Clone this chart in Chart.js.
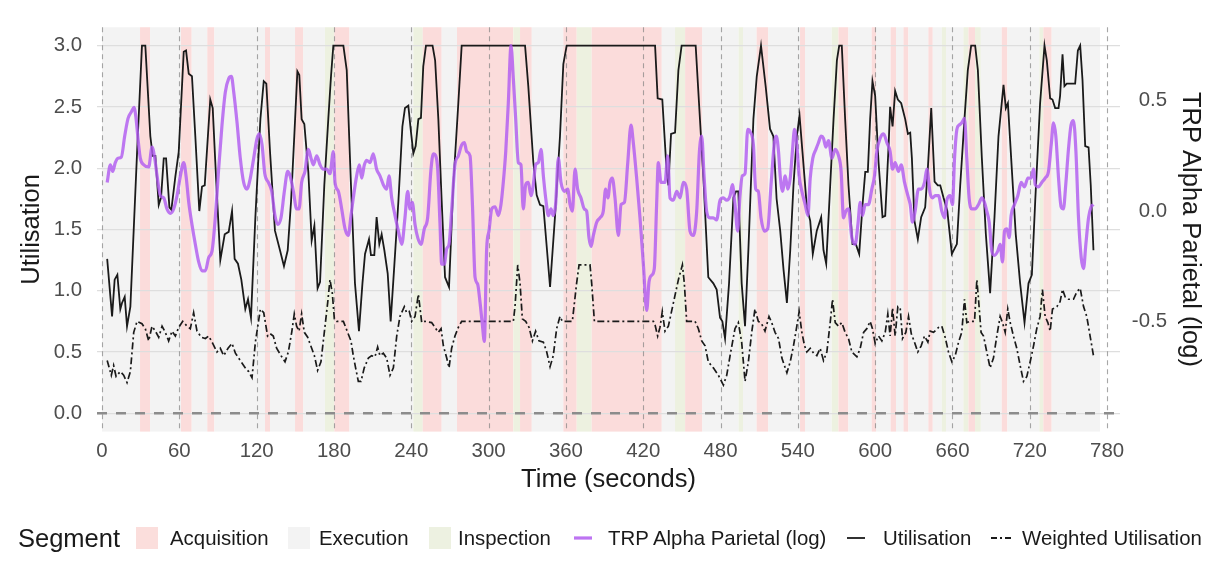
<!DOCTYPE html>
<html lang="en">
<head>
  <meta charset="UTF-8">
  <title>Utilisation and TRP Alpha Parietal over Time</title>
  <script src="https://cdn.jsdelivr.net/npm/chart.js"></script>
  <style>
    body {
      margin: 0;
      background: #fff;
      font-family: "Liberation Sans", Arial, sans-serif;
    }

    #wrap {
      position: relative;
      width: 1218px;
      height: 565px;
    }

    .legend {
      position: absolute;
      left: 0;
      top: 520px;
      width: 1218px;
      height: 36px;
      color: #1a1a1a;
    }

    .legend span {
      position: absolute;
      top: 0;
      line-height: 36px;
      font-size: 20.4px;
      white-space: nowrap;
    }

    .legend .title {
      font-size: 25.5px;
    }

    .legend .box {
      position: absolute;
      top: 7px;
      width: 22px;
      height: 22px;
    }

    .legend svg {
      position: absolute;
      top: 0;
    }
  </style>
</head>
<body>

<div id="wrap">
  <canvas id="chart" width="1218" height="565"></canvas>

  <div class="legend">
    <span class="title" style="left:18px">Segment</span>
    <div class="box" style="left:136px;background:#fbdedc"></div>
    <span style="left:170px">Acquisition</span>
    <div class="box" style="left:288px;background:#f3f3f3"></div>
    <span style="left:319px">Execution</span>
    <div class="box" style="left:429px;background:#edf1e1"></div>
    <span style="left:458px">Inspection</span>

    <svg style="left:572px" width="22" height="36"><line x1="2" y1="18" x2="20" y2="18" stroke="rgba(177,92,240,0.85)" stroke-width="3.2"/></svg>
    <span style="left:608px">TRP Alpha Parietal (log)</span>
    <svg style="left:845px" width="22" height="36"><line x1="2" y1="18" x2="20" y2="18" stroke="#1a1a1a" stroke-width="1.8"/></svg>
    <span style="left:883px">Utilisation</span>
    <svg style="left:990px" width="22" height="36"><line x1="1" y1="18" x2="21" y2="18" stroke="#1a1a1a" stroke-width="1.8" stroke-dasharray="6,3,2,3"/></svg>
    <span style="left:1022px">Weighted Utilisation</span>
  </div>
</div>

<script>
  // axis ticks
  const timeTicks = [0, 60, 120, 180, 240, 300, 360, 420, 480, 540, 600, 660, 720, 780];
  const utilTicks = [0, 0.5, 1, 1.5, 2, 2.5, 3];
  const trpTicks = [-0.5, 0, 0.5];

  // segment spans: [start s, end s, type]
  const segments = [
    [0, 29.5, 'Execution'], [29.5, 37.3, 'Acquisition'], [37.3, 61.3, 'Execution'],
    [61.3, 69.6, 'Acquisition'], [69.6, 81.7, 'Execution'], [81.7, 87.2, 'Acquisition'],
    [87.2, 126.5, 'Execution'], [126.5, 130.4, 'Acquisition'], [130.4, 149.8, 'Execution'],
    [149.8, 156.2, 'Acquisition'], [156.2, 173, 'Execution'], [173, 180.3, 'Inspection'],
    [180.3, 192, 'Acquisition'], [192, 241.6, 'Execution'], [241.6, 248.9, 'Inspection'],
    [248.9, 263.6, 'Acquisition'], [263.6, 275.5, 'Execution'], [275.5, 319.2, 'Acquisition'],
    [319.2, 324.4, 'Inspection'], [324.4, 333.5, 'Acquisition'], [333.5, 358, 'Execution'],
    [358, 368.4, 'Acquisition'], [368.4, 380, 'Inspection'], [380, 434.4, 'Acquisition'],
    [434.4, 444.7, 'Execution'], [444.7, 452.5, 'Inspection'], [452.5, 465.9, 'Acquisition'],
    [465.9, 494, 'Execution'], [494, 497.5, 'Inspection'], [497.5, 508, 'Execution'],
    [508, 517, 'Acquisition'], [517, 541.7, 'Execution'], [541.7, 545.6, 'Acquisition'],
    [545.6, 566.3, 'Execution'], [566.3, 571.5, 'Inspection'], [571.5, 579.2, 'Acquisition'],
    [579.2, 597.3, 'Execution'], [597.3, 600.7, 'Acquisition'], [600.7, 612, 'Execution'],
    [612, 616.2, 'Acquisition'], [616.2, 622, 'Execution'], [622, 625.8, 'Acquisition'],
    [625.8, 641.3, 'Execution'], [641.3, 644.7, 'Acquisition'], [644.7, 651.7, 'Execution'],
    [651.7, 655, 'Inspection'], [655, 668.5, 'Execution'], [668.5, 672.4, 'Inspection'],
    [672.4, 677.5, 'Acquisition'], [677.5, 682, 'Inspection'], [682, 698.2, 'Execution'],
    [698.2, 702.6, 'Acquisition'], [702.6, 727.4, 'Execution'], [727.4, 730.5, 'Inspection'],
    [730.5, 737, 'Acquisition'], [737, 774.5, 'Execution']
  ];

  // [time s, utilisation]
  const utilisation = [
    [4, 1.26], [7.8, 0.79], [9.8, 1.09], [11.9, 1.13], [14.2, 0.85], [15.5, 0.9], [17.6, 0.95],
    [19.4, 0.71], [22, 0.87], [27.2, 2.13], [31, 3], [33.6, 3], [37.5, 2.26], [39.3, 2.1],
    [41.4, 2.1], [44, 1.7], [45.8, 1.76], [47.9, 2.08], [49.7, 2.08], [52.3, 1.68], [53.8, 1.66],
    [56.9, 1.93], [59.5, 2.13], [63.4, 2.95], [65.2, 2.96], [67.3, 2.77], [69.8, 2.75], [72.4, 2.26],
    [75.5, 1.65], [77.6, 1.85], [79.7, 1.86], [84, 2.56], [85.9, 2.49], [88.5, 1.92], [91.8, 1.25],
    [95.2, 1.46], [98.3, 1.48], [100.9, 1.65], [102.9, 1.26], [105.5, 1.22], [108.1, 1.09],
    [111.2, 0.85], [113.3, 0.93], [115.6, 0.78], [119, 1.6], [122.9, 2.4], [125.5, 2.71],
    [127.5, 2.69], [130.4, 2.13], [134.2, 1.49], [138.1, 1.33], [141.2, 1.2], [144.1, 1.33],
    [146.7, 1.73], [149.2, 2.26], [151.6, 2.79], [153.1, 2.76], [154.9, 2.4], [157, 2.36],
    [160.1, 1.97], [162.7, 1.41], [164.8, 1.53], [167.3, 1.02], [169.2, 1.07], [172.5, 1.86],
    [175.6, 2.4], [177.7, 2.75], [179.5, 3], [187.3, 3], [189.9, 2.8], [193.2, 1.86], [196.3, 1.06],
    [199.4, 0.67], [202.1, 1.06], [204.1, 1.3], [207.2, 1.42], [208.7, 1.29], [211.3, 1.29],
    [213.1, 1.6], [215.2, 1.38], [217, 1.46], [219.1, 1.33], [221.7, 1.14], [224, 0.75],
    [226.8, 1.2], [230, 1.73], [233.1, 2.34], [235.1, 2.49], [237.7, 2.51], [239.5, 2.32],
    [241.6, 2.12], [243.4, 2.18], [245.5, 2.4], [247.5, 2.41], [249.3, 2.83], [251.4, 3],
    [256.5, 3], [258.5, 2.88], [261, 2.4], [263.6, 1.73], [266.2, 1.11], [269.3, 1.03],
    [272.6, 1.86], [276.5, 2.53], [279.1, 3], [328.3, 3], [330.8, 2.67], [334.7, 2.05],
    [337.3, 1.78], [339.9, 1.7], [342.5, 1.69], [347.7, 1.03], [351.5, 1.6], [355.4, 2.26],
    [358, 2.85], [360.6, 3], [429.2, 3], [431.2, 2.57], [434.8, 2.56], [438.2, 1.97], [439.5, 1.86],
    [441.6, 2.28], [444.7, 2.29], [447.3, 2.8], [449.8, 3], [460.7, 3], [463.3, 2.53], [466.7, 1.92],
    [470.5, 1.11], [474.4, 1.06], [477, 1.01], [479.6, 0.78], [481.4, 0.75], [483.5, 0.61],
    [486.6, 1.06], [490, 1.76], [492, 1.81], [493.8, 1.81], [496.4, 1.06], [499, 0.71],
    [501.6, 1.33], [505.5, 2.4], [508.1, 2.75], [511.4, 3], [515, 2.67], [518.4, 2.32], [521, 2.26],
    [523.5, 1.75], [526.3, 1.49], [528.9, 1.17], [531.5, 0.9], [534.1, 1.33], [536.6, 1.86],
    [539.2, 2.26], [541.3, 2.43], [543.6, 2.13], [547, 1.68], [549.6, 1.57], [551.6, 1.3],
    [554.7, 1.49], [558.1, 1.6], [559.9, 1.33], [562, 1.22], [565.1, 1.86], [567.7, 2.4],
    [570.3, 2.88], [572.1, 3], [574.1, 3], [576.7, 2.4], [579.3, 1.86], [582.4, 1.38], [585, 1.38],
    [587.6, 1.3], [590.2, 1.7], [592.3, 1.97], [594.3, 1.97], [596.1, 2.4], [597.9, 2.71],
    [600, 2.59], [602.6, 2.05], [605.7, 1.6], [607.8, 1.61], [610.4, 2.18], [611.6, 2.5],
    [613.5, 2.34], [615.5, 2.63], [617.6, 2.56], [620.2, 2.53], [623.3, 2.4], [625.4, 2.28],
    [627.2, 2.29], [628.5, 2.08], [630.5, 1.57], [633.1, 1.42], [635.7, 1.6], [638.8, 1.68],
    [640.9, 2], [643.5, 2.49], [646.1, 1.89], [648.6, 1.86], [650.5, 1.86], [653, 1.76],
    [656, 1.65], [659.5, 1.3], [663.4, 1.38], [666, 1.86], [669.3, 2.4], [671.9, 2.8], [674.5, 3],
    [677.6, 3], [679.7, 2.8], [682.8, 2.08], [685.9, 1.46], [689.2, 0.98], [692.6, 1.6],
    [695.7, 2.26], [699.6, 2.68], [701.4, 2.49], [703, 2.53], [706, 2], [709.1, 1.46],
    [712.5, 1.06], [715.9, 0.74], [719, 1.06], [721.6, 1.13], [724.2, 1.73], [728, 2.53],
    [731.4, 3], [733.2, 2.88], [735.8, 2.57], [737.6, 2.56], [739.7, 2.49], [742.3, 2.49],
    [743.5, 2.59], [745.4, 2.93], [746.9, 2.67], [748.7, 2.69], [755.2, 2.69], [757.3, 2.96],
    [759.1, 3], [760.9, 2.72], [763, 2.18], [765.6, 2.17], [767.3, 1.86], [769.4, 1.33]
  ];

  // [time s, weighted utilisation]
  const weightedUtilisation = [
    [4, 0.43], [7.2, 0.31], [9, 0.39], [10.9, 0.3], [14.2, 0.34], [16.8, 0.31], [19.4, 0.25],
    [22, 0.34], [24.6, 0.66], [27.2, 0.75], [31, 0.73], [33.6, 0.69], [36.2, 0.59], [38.8, 0.71],
    [41.4, 0.67], [44, 0.62], [46.6, 0.71], [49.1, 0.66], [51.7, 0.59], [54.3, 0.67], [56.9, 0.63],
    [59.5, 0.7], [62.6, 0.75], [66, 0.71], [68.5, 0.69], [71.1, 0.82], [73.7, 0.67], [77.1, 0.62],
    [80.2, 0.61], [82.8, 0.63], [85.9, 0.57], [89.2, 0.5], [91.8, 0.53], [94.4, 0.47], [97.8, 0.53],
    [100.9, 0.57], [103.5, 0.49], [107.3, 0.43], [111.2, 0.37], [113.8, 0.34], [116.4, 0.29],
    [119, 0.58], [122.9, 0.85], [125.5, 0.82], [128.5, 0.63], [130.4, 0.65], [132.9, 0.63],
    [135.5, 0.53], [138.9, 0.47], [142, 0.42], [144.6, 0.5], [147.2, 0.66], [149.2, 0.81],
    [151, 0.71], [152.9, 0.67], [154.9, 0.81], [157, 0.66], [159.6, 0.62], [162.7, 0.53],
    [164.8, 0.47], [167.3, 0.35], [169.9, 0.42], [172.5, 0.66], [175.1, 0.9], [176.9, 1.09],
    [178.7, 0.98], [180.3, 0.77], [182.1, 0.75], [187.3, 0.75], [190.6, 0.66], [193.2, 0.59],
    [195, 0.47], [196.8, 0.37], [198.9, 0.26], [201, 0.26], [203.5, 0.37], [206.7, 0.45],
    [209.2, 0.47], [211.8, 0.46], [213.9, 0.54], [215.7, 0.47], [218.3, 0.49], [220.9, 0.45],
    [223.5, 0.31], [226.1, 0.37], [228.7, 0.63], [231.2, 0.79], [234.6, 0.87], [236.4, 0.82],
    [238.5, 0.83], [240.3, 0.75], [242.9, 0.79], [245.5, 0.97], [248.1, 0.74], [250.6, 0.75],
    [255.8, 0.74], [258.4, 0.7], [261, 0.66], [263.1, 0.69], [264.9, 0.55], [267.5, 0.45],
    [269.3, 0.37], [271.3, 0.53], [273.9, 0.63], [276.5, 0.7], [279.1, 0.75], [319.2, 0.75],
    [320.5, 0.87], [322.6, 1.21], [324.4, 1.06], [326.2, 0.77], [328.8, 0.75], [331.4, 0.7],
    [334, 0.59], [336.5, 0.67], [339.1, 0.59], [342.5, 0.58], [345.1, 0.5], [347.7, 0.38],
    [350.2, 0.47], [352.8, 0.69], [355.4, 0.79], [357.2, 0.75], [365, 0.75], [368.3, 1.06],
    [370.2, 1.21], [378.7, 1.21], [380, 1.06], [382.1, 0.75], [427.9, 0.75], [429.2, 0.72],
    [431.2, 0.63], [433, 0.7], [434.8, 0.83], [436.9, 0.67], [439.5, 0.71], [443.4, 0.9],
    [447.3, 1.09], [450.4, 1.21], [451.9, 1.06], [453.7, 0.75], [460.2, 0.75], [462.8, 0.69],
    [465.4, 0.59], [468, 0.55], [470.5, 0.42], [474.4, 0.37], [478.3, 0.31], [482.2, 0.23],
    [484.8, 0.31], [487.4, 0.47], [491.2, 0.69], [493.8, 0.74], [496.4, 0.58], [499, 0.26],
    [501.6, 0.42], [504.2, 0.66], [506.7, 0.85], [509.3, 0.75], [511.9, 0.73], [514.5, 0.67],
    [517.6, 0.79], [519.7, 0.74], [522.3, 0.66], [525, 0.61], [527.6, 0.45], [531.5, 0.33],
    [534.1, 0.42], [536.6, 0.55], [539.2, 0.71], [541, 0.83], [543.1, 0.66], [545.2, 0.55],
    [547, 0.5], [549.6, 0.53], [552.2, 0.49], [554.7, 0.47], [557.3, 0.53], [559.9, 0.43],
    [562.5, 0.5], [565.1, 0.74], [566.9, 0.93], [569, 0.74], [571.6, 0.71], [574.1, 0.74],
    [576.7, 0.66], [579.3, 0.61], [581.9, 0.5], [585.8, 0.46], [588.4, 0.53], [591, 0.66],
    [593.5, 0.69], [596.1, 0.75], [597.9, 0.69], [600, 0.57], [602.6, 0.63], [605.2, 0.59],
    [607.8, 0.66], [609.8, 0.81], [611.6, 0.63], [613.5, 0.86], [615.5, 0.63], [617.6, 0.87],
    [619.4, 0.86], [621.2, 0.61], [623.8, 0.66], [625.9, 0.79], [628, 0.65], [630.5, 0.58],
    [633.1, 0.5], [635.7, 0.55], [638.3, 0.63], [640.9, 0.58], [642.7, 0.67], [645.3, 0.66],
    [649.2, 0.7], [651.7, 0.71], [654.3, 0.62], [656.9, 0.5], [659.5, 0.42], [662.1, 0.47],
    [664.7, 0.58], [667.2, 0.66], [669.3, 0.93], [671.1, 0.74], [673.7, 0.75], [677.1, 0.75],
    [678.9, 1.09], [680.2, 0.93], [682.2, 0.66], [684.1, 0.63], [686.6, 0.5], [689.2, 0.37],
    [691.8, 0.45], [694.4, 0.63], [697, 0.79], [698.8, 0.74], [700.9, 0.66], [702.9, 0.85],
    [704.8, 0.74], [707.3, 0.63], [709.9, 0.53], [712.5, 0.39], [715.1, 0.26], [717.7, 0.3],
    [720.3, 0.42], [722.9, 0.55], [725.4, 0.69], [728, 0.79], [729.8, 1.01], [731.9, 0.79],
    [734, 0.74], [735.8, 0.67], [737.6, 0.85], [741, 0.87], [743.5, 0.91], [745.4, 1.01],
    [747.4, 0.95], [750, 0.93], [753.9, 0.93], [756.5, 0.99], [759.1, 1.02], [761.7, 0.87],
    [764.2, 0.79], [766.8, 0.63], [769.4, 0.47]
  ];

  // [time s, TRP alpha parietal (log)]
  const trpAlpha = [
    [4, 0.13], [6.5, 0.21], [8.3, 0.18], [10.3, 0.22], [12.4, 0.24], [15, 0.245], [17.6, 0.34],
    [20.2, 0.42], [22.8, 0.45], [24.8, 0.47], [26.4, 0.42], [27.9, 0.33], [29.7, 0.24], [32.3, 0.21],
    [36.2, 0.2], [38.8, 0.29], [40.9, 0.24], [42.7, 0.16], [45.3, 0.07], [47.9, 0.06], [50.4, 0.01],
    [53, -0.01], [55.6, 0.01], [58.2, 0.07], [60.8, 0.16], [63.4, 0.22], [65.2, 0.16], [67.3, 0.04],
    [69.8, -0.06], [72.4, -0.15], [75, -0.23], [77.6, -0.27], [80.2, -0.27], [82.8, -0.21],
    [85.4, -0.18], [87.9, -0.03], [90.5, 0.19], [93.1, 0.39], [95.7, 0.54], [98.3, 0.6],
    [100.4, 0.61], [102.2, 0.54], [104.8, 0.4], [107.3, 0.24], [109.9, 0.13], [112.5, 0.1],
    [115.1, 0.15], [117.7, 0.24], [120.3, 0.33], [122.1, 0.35], [124.2, 0.3], [126.3, 0.17],
    [129.1, 0.13], [131.7, 0.09], [134.2, -0.02], [136.3, -0.06], [138.9, -0.03], [141.5, 0.09],
    [144.1, 0.18], [145.9, 0.16], [148.5, 0.09], [151, 0.01], [152.9, 0.01], [154.9, 0.13],
    [157.5, 0.18], [160.1, 0.28], [162.2, 0.24], [164, 0.21], [166.6, 0.25], [169.2, 0.21],
    [171.7, 0.19], [174.3, 0.19], [176.9, 0.17], [179.5, 0.27], [180.8, 0.13], [183.4, 0.09],
    [186, 0.01], [188.6, -0.08], [191.1, -0.11], [193.2, -0.02], [195, 0.06], [197.6, 0.16],
    [199.7, 0.21], [201.5, 0.15], [203.6, 0.21], [205.4, 0.23], [208, 0.22], [210.5, 0.26],
    [213.1, 0.19], [215.7, 0.16], [218.3, 0.12], [220.9, 0.1], [222.7, 0.16], [224.8, 0.06],
    [227.4, -0.02], [230, -0.09], [232.6, -0.15], [235.1, -0.03], [237.2, 0.09], [239, 0.01],
    [240.8, 0.04], [242.9, -0.06], [245, -0.12], [247.5, -0.15], [250.1, -0.08], [252.7, -0.03],
    [255.3, 0.19], [257.1, 0.26], [259, 0.25], [260.5, 0.19], [262.3, -0.06], [263.6, -0.24],
    [265.6, -0.24], [267.5, -0.17], [269.3, -0.15], [271.3, 0], [273.9, 0.21], [276.5, 0.25],
    [279.1, 0.3], [281.2, 0.31], [283, 0.27], [285.6, 0.25], [287.4, 0.04], [289.5, -0.3],
    [291.5, -0.33], [293.3, -0.41], [295.1, -0.51], [296.7, -0.59], [298.5, -0.17], [300.3, -0.09],
    [302.4, 0.01], [305, 0.02], [307.6, -0.02], [309.6, 0.03], [311.4, 0.13], [313.3, 0.27],
    [315.3, 0.49], [317.4, 0.75], [319.2, 0.6], [321, 0.42], [323.1, 0.22], [325.1, 0.21],
    [326.9, 0.01], [328.8, 0.12], [330.8, 0.13], [332.9, 0.07], [334.7, 0.12], [336.5, 0.21],
    [338.6, 0.22], [340.7, 0.28], [342.5, 0.16], [344.5, 0.05], [346.4, -0.02], [348.4, 0.01],
    [350.2, -0.02], [352, 0.03], [354.1, 0.24], [356.2, 0.13], [358.8, 0.09], [361.4, 0.1],
    [363.2, 0.03], [365, 0], [367.1, 0.19], [369.1, 0.1], [371.7, 0.06], [374.3, 0.01], [376.1, 0],
    [377.9, -0.12], [379.5, -0.16], [381.3, -0.11], [383.9, -0.05], [386.5, -0.03], [389, 0],
    [390.8, 0.1], [392.6, 0.06], [394.2, 0.13], [396, 0.15], [398.1, 0.06], [400.7, -0.11],
    [402.8, 0.03], [405.4, 0.04], [408, 0.22], [410.5, 0.39], [412.3, 0.31], [414.9, 0.15],
    [417.5, -0.03], [420.1, -0.24], [422.7, -0.45], [424.5, -0.32], [426.6, -0.29], [428.6, -0.26],
    [430.4, 0.03], [431.7, 0.22], [433.8, 0.13], [436.9, 0.13], [439, 0.25], [440.8, 0.06],
    [443.4, 0.05], [446, 0.09], [448.6, 0.06], [451.1, 0.13], [453.7, 0.1], [456.3, -0.09],
    [458.9, -0.11], [461.5, 0], [463.6, 0.27], [465.4, 0.34], [467.2, 0.16], [469.2, 0],
    [471.8, -0.03], [474.4, -0.03], [477, -0.04], [479.6, 0.05], [482.2, 0.06], [484.8, 0.05],
    [487.4, 0.07], [489.2, 0.12], [491.2, 0.03], [493.3, -0.09], [495.1, 0.07], [496.9, 0.16],
    [499, 0.17], [501.1, 0.37], [502.9, 0.36], [505.5, 0.3], [507.3, 0.1], [509.3, 0.09],
    [511.4, -0.03], [514, -0.09], [516.6, -0.08], [519.2, 0.12], [521.8, 0.31], [523.3, 0.34],
    [525, 0.27], [526.3, 0.16], [528.1, 0.09], [530.2, 0.16], [532.2, 0.1], [534.1, 0.15],
    [535.9, 0.28], [537.4, 0.37], [539.2, 0.3], [541, 0.16], [543.1, 0.09], [545.7, 0.03],
    [547.8, -0.02], [549.6, 0.15], [551.6, 0.24], [554, 0.28], [556, 0.31], [558.1, 0.34],
    [559.9, 0.33], [561.7, 0.29], [563.8, 0.32], [566.4, 0.24], [569, 0.28], [571.6, 0.25],
    [573.6, 0.18], [575.4, -0.03], [577.2, 0], [579.3, 0.01], [581.9, -0.12], [584.5, -0.15],
    [586.6, -0.06], [588.4, 0.04], [590.2, -0.02], [592.3, 0.03], [594.8, 0.03], [597.4, 0.1],
    [599.5, 0.16], [601.3, 0.27], [603.9, 0.33], [606.5, 0.35], [609.1, 0.31], [611.6, 0.27],
    [613.5, 0.19], [615.5, 0.22], [618.1, 0.18], [620.2, 0.21], [622.8, 0.13], [625.4, 0.07],
    [627.2, 0.03], [629, -0.05], [631, 0], [633.6, 0.1], [635.7, 0.1], [638.3, 0.13], [640.1, 0.19],
    [642.7, 0.08], [644.5, 0.06], [646.6, 0.07], [649.2, 0.07], [651.7, 0], [653.8, -0.03],
    [655.6, 0.05], [658.2, 0.07], [660, 0.03], [661.6, 0.24], [663.4, 0.37], [665.2, 0.39],
    [667.2, 0.4], [669.3, 0.42], [671.1, 0.24], [672.9, 0.06], [675, 0.01], [677.6, 0.01],
    [680.2, 0.03], [682.8, 0.06], [684.8, 0.04], [686.6, 0], [688.5, -0.05], [690.5, -0.18],
    [692.6, -0.2], [695.2, -0.18], [697, -0.15], [698.8, -0.23], [700.4, -0.09], [702.2, -0.08],
    [704, -0.12], [705.5, -0.02], [708.1, 0.03], [710.7, 0.07], [713.3, 0.13], [715.9, 0.11],
    [718.5, 0.15], [721, 0.15], [722.9, 0.19], [724.2, 0.12], [726.7, 0.11], [729.3, 0.13],
    [731.9, 0.15], [734.5, 0.18], [736.6, 0.3], [738.4, 0.4], [740.2, 0.34], [742.3, 0.15],
    [744.3, 0.02], [746.1, 0.01], [747.9, 0.12], [750, 0.28], [752, 0.39], [753.9, 0.41],
    [755.8, 0.27], [757.8, -0.03], [759.9, -0.21], [761.7, -0.26], [763.5, -0.15], [765.6, -0.03],
    [767.6, 0.02], [769.4, 0.03]
  ];

  const segmentColors = {
    Acquisition: '#fbdcdb',
    Execution: '#f3f3f3',
    Inspection: '#edf1e0'
  };

  // the right axis is a linear rescale of utilisation: u = 1.649 + 1.802 * trp
  const trpOffset = 1.649;
  const trpScale = 1.802;
  const yMin = -0.15;
  const yMax = 3.15;

  const fontFamily = '"Liberation Sans", Arial, sans-serif';
  const toPoints = rows => rows.map(r => ({ x: r[0], y: r[1] }));

  // shaded segments behind everything, then reference lines above the grid
  const segmentPlugin = {
    id: 'segments',
    beforeDraw(chart) {
      const { ctx, chartArea, scales } = chart;
      ctx.save();
      segments.forEach(([start, end, type]) => {
        const x0 = scales.x.getPixelForValue(start);
        const x1 = scales.x.getPixelForValue(end);
        ctx.fillStyle = segmentColors[type];
        ctx.fillRect(x0, chartArea.top, x1 - x0, chartArea.bottom - chartArea.top);
      });
      ctx.restore();
    },
    beforeDatasetsDraw(chart) {
      const { ctx, chartArea, scales } = chart;
      ctx.save();
      ctx.strokeStyle = 'rgba(130,130,130,0.7)';
      ctx.lineWidth = 1.1;
      ctx.setLineDash([5, 4]);
      timeTicks.forEach(t => {
        const x = Math.round(scales.x.getPixelForValue(t)) + 0.5;
        ctx.beginPath();
        ctx.moveTo(x, chartArea.top);
        ctx.lineTo(x, chartArea.bottom);
        ctx.stroke();
      });

      const y0 = scales.y.getPixelForValue(0);
      ctx.strokeStyle = '#8c8c8c';
      ctx.lineWidth = 2.4;
      ctx.setLineDash([10, 9]);
      ctx.beginPath();
      ctx.moveTo(chartArea.left, y0);
      ctx.lineTo(chartArea.right, y0);
      ctx.stroke();
      ctx.restore();
    }
  };

  const ctx = document.getElementById('chart').getContext('2d');

  new Chart(ctx, {
    type: 'line',
    data: {
      datasets: [
        {
          label: 'TRP Alpha Parietal (log)',
          data: toPoints(trpAlpha),
          yAxisID: 'y2',
          borderColor: 'rgba(177,92,240,0.82)',
          borderWidth: 3.2,
          pointRadius: 0,
          cubicInterpolationMode: 'monotone',
          order: 0
        },
        {
          label: 'Utilisation',
          data: toPoints(utilisation),
          yAxisID: 'y',
          borderColor: '#1a1a1a',
          borderWidth: 1.8,
          pointRadius: 0,
          order: 1
        },
        {
          label: 'Weighted Utilisation',
          data: toPoints(weightedUtilisation),
          yAxisID: 'y',
          borderColor: '#1a1a1a',
          borderWidth: 1.7,
          borderDash: [7, 3, 2, 3],
          pointRadius: 0,
          order: 2
        }
      ]
    },
    options: {
      responsive: false,
      animation: false,
      layout: { padding: { left: 0, right: 51, top: 21.5, bottom: 0 } },
      plugins: {
        legend: { display: false },
        tooltip: { enabled: false }
      },
      scales: {
        x: {
          type: 'linear',
          min: -3.9,
          max: 790,
          afterBuildTicks: s => { s.ticks = timeTicks.map(v => ({ value: v })); },
          afterFit: s => { s.height = 133.4; },
          grid: { display: false, drawTicks: false },
          border: { display: false },
          ticks: {
            autoSkip: false,
            maxRotation: 0,
            padding: 8,
            color: '#4d4d4d',
            font: { size: 20.4, family: fontFamily },
            callback: v => String(v)
          },
          title: {
            display: true,
            text: 'Time (seconds)',
            color: '#1a1a1a',
            font: { size: 25.5, family: fontFamily },
            padding: { top: 0, bottom: 69.7 }
          }
        },
        y: {
          position: 'left',
          min: yMin,
          max: yMax,
          afterBuildTicks: s => { s.ticks = utilTicks.map(v => ({ value: v })); },
          afterFit: s => { s.width = 97; },
          grid: { color: '#dedede', lineWidth: 1.2, drawTicks: false },
          border: { display: false },
          ticks: {
            padding: 15,
            color: '#4d4d4d',
            font: { size: 20.4, family: fontFamily },
            callback: v => v.toFixed(1)
          },
          title: {
            display: true,
            text: 'Utilisation',
            color: '#1a1a1a',
            font: { size: 25.5, family: fontFamily },
            padding: { top: 16.7, bottom: 0 }
          }
        },
        y2: {
          position: 'right',
          min: (yMin - trpOffset) / trpScale,
          max: (yMax - trpOffset) / trpScale,
          afterBuildTicks: s => { s.ticks = trpTicks.map(v => ({ value: v })); },
          afterFit: s => { s.width = 47; },
          grid: { display: false, drawTicks: false },
          border: { display: false },
          ticks: {
            crossAlign: 'far',
            padding: 0,
            color: '#4d4d4d',
            font: { size: 20.4, family: fontFamily },
            callback: v => v.toFixed(1)
          },
          title: {
            display: true,
            text: 'TRP Alpha Parietal (log)',
            color: '#1a1a1a',
            font: { size: 25.5, family: fontFamily },
            padding: { top: -38.3, bottom: 0 }
          }
        }
      }
    },
    plugins: [segmentPlugin]
  });
</script>

</body>
</html>
